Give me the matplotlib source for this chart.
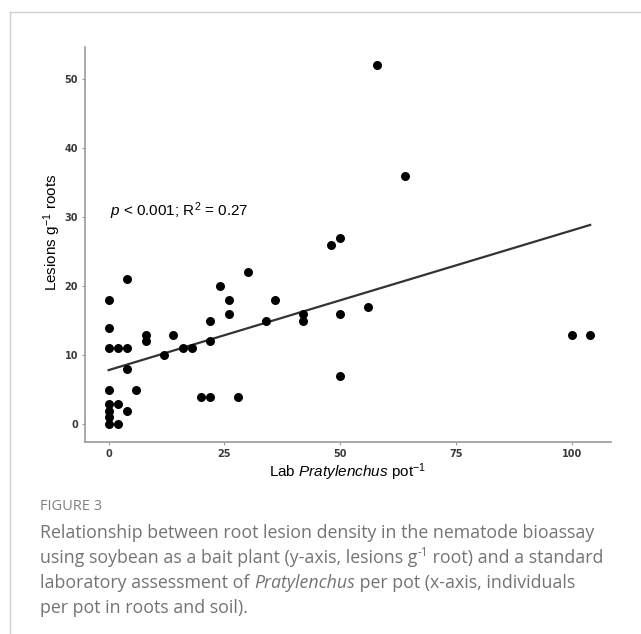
import matplotlib.pyplot as plt
from matplotlib.lines import Line2D

plt.rcParams['mathtext.fontset'] = 'custom'
plt.rcParams['mathtext.rm'] = 'Liberation Sans'
plt.rcParams['mathtext.it'] = 'Liberation Sans:italic'

# data
lab_per_pot = [58, 64, 50, 48, 30, 4, 24, 0, 26, 36, 56, 26, 42, 50, 22, 34, 42,
               0, 8, 14, 100, 104, 8, 22, 0, 2, 4, 16, 18, 12, 4, 50, 0, 6, 20,
               22, 28, 0, 2, 0, 4, 0, 0, 2]
lesions_per_g = [52, 36, 27, 26, 22, 21, 20, 18, 18, 18, 17, 16, 16, 16, 15, 15, 15,
                 14, 13, 13, 13, 13, 12, 12, 11, 11, 11, 11, 11, 10, 8, 7, 5, 5, 4,
                 4, 4, 3, 3, 2, 2, 1, 0, 0]
fit_intercept = 7.85
fit_slope = 0.202
fit_range = [0, 104]
x_ticks = [0, 25, 50, 75, 100]
y_ticks = [0, 10, 20, 30, 40, 50]

caption_title = "FIGURE 3"
# each line is a list of (text, style) pieces
caption_lines = [
    [("Relationship between root lesion density in the nematode bioassay", "n")],
    [("using soybean as a bait plant (y-axis, lesions g", "n"), ("-1", "sup"),
     (" root) and a standard", "n")],
    [("laboratory assessment of ", "n"), ("Pratylenchus", "it"),
     (" per pot (x-axis, individuals", "n")],
    [("per pot in roots and soil).", "n")],
]

fig = plt.figure(figsize=(6.41, 6.34), dpi=100)
ax = fig.add_axes([85 / 641, 1 - 442 / 634, 526 / 641, 395 / 634])

ax.scatter(lab_per_pot, lesions_per_g, s=42, color='black', zorder=3, linewidths=0)

fit_y = [fit_intercept + fit_slope * x for x in fit_range]
ax.plot(fit_range, fit_y, color='#333333', lw=1.6, zorder=2)

ax.set_xlim(-5.1, 108.5)
ax.set_ylim(-2.55, 54.6)
ax.set_xticks(x_ticks)
ax.set_yticks(y_ticks)

for side in ['top', 'right']:
    ax.spines[side].set_visible(False)
for side in ['left', 'bottom']:
    ax.spines[side].set_color('#9a9a9a')
    ax.spines[side].set_linewidth(1.2)

ax.tick_params(axis='both', length=2, width=0.8, color='#9a9a9a',
               labelsize=7, labelcolor='#3a3a3a', pad=3)
for lab in ax.get_xticklabels() + ax.get_yticklabels():
    lab.set_fontweight('bold')
    lab.set_family(['Liberation Sans Narrow', 'DejaVu Sans'])

ax.set_xlabel('Lab $\\it{Pratylenchus}$ pot$^{-1}$', fontsize=11,
              family='Liberation Sans', labelpad=2)
ax.set_ylabel('Lesions g$^{-1}$ roots', fontsize=11, family='Liberation Sans')
ax.yaxis.set_label_coords(-0.042, 0.53)

ax.text(0.2, 30.9, '$\\it{p}$ < 0.001; R$^2$ = 0.27', fontsize=11,
        family='Liberation Sans', va='center', ha='left')

# caption below the chart, pieces chained left to right
renderer = fig.canvas.get_renderer()
cap_color = '#737373'
fig.text(40 / 641, 1 - 506 / 634, caption_title, fontsize=10.5, color='#808080',
         family='Open Sans', va='center')
for i, pieces in enumerate(caption_lines):
    x_px = 40
    y_px = 634 - (533 + 25 * i)
    for txt, style in pieces:
        kw = dict(fontsize=12.8, color=cap_color, family='Open Sans',
                  va='baseline', transform=None)
        y_use = y_px - 5
        if style == 'it':
            kw['style'] = 'italic'
        elif style == 'sup':
            kw['fontsize'] = 8.5
            y_use = y_px + 2
        t = fig.text(x_px, y_use, txt, **kw)
        x_px += t.get_window_extent(renderer).width

# page frame
fig.add_artist(Line2D([9.5 / 641, 9.5 / 641], [0, 1 - 11.5 / 634],
                      transform=fig.transFigure, color='#cccccc', lw=1))
fig.add_artist(Line2D([9.5 / 641, 1], [1 - 11.5 / 634, 1 - 11.5 / 634],
                      transform=fig.transFigure, color='#cccccc', lw=1))

fig.savefig('out.png', dpi=100)
